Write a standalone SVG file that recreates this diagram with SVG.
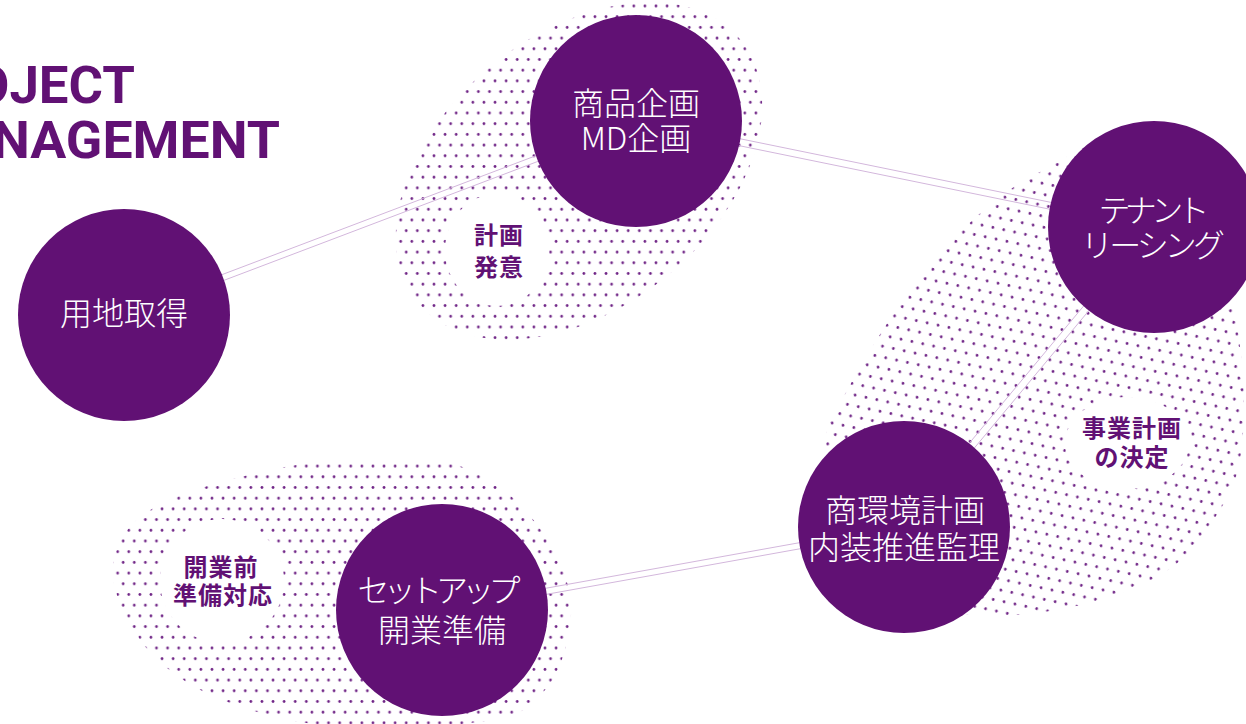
<svg xmlns="http://www.w3.org/2000/svg" width="1246" height="724" viewBox="0 0 1246 724">
<defs>
<style>
.node{fill:#611174}
.nt{font-family:"Noto Sans CJK JP","Noto Sans",sans-serif;font-size:32px;font-weight:300;fill:#ffffff;text-anchor:middle}
.lbl{font-family:"Noto Sans CJK JP","Noto Sans",sans-serif;font-size:24px;font-weight:700;fill:#611174;text-anchor:middle;letter-spacing:1px}
.title{font-family:Roboto,"Liberation Sans",sans-serif;font-weight:700;font-size:52px;fill:#611174}
.conn line{stroke:#d3b7dc;stroke-width:1;fill:none}
</style>
<pattern id="dots" patternUnits="userSpaceOnUse" x="9.4" y="0.65" width="11.1" height="21.4">
<circle cx="2.8" cy="5.35" r="1.35" fill="#6e2285"/>
<circle cx="8.35" cy="16.05" r="1.35" fill="#6e2285"/>
</pattern>
<pattern id="dotsB" patternUnits="userSpaceOnUse" x="0" y="0" width="11.1" height="21.4" patternTransform="rotate(12)">
<circle cx="2.8" cy="5.35" r="1.35" fill="#6e2285"/>
<circle cx="8.35" cy="16.05" r="1.35" fill="#6e2285"/>
</pattern>
<mask id="mA" maskUnits="userSpaceOnUse" x="0" y="0" width="1246" height="724">
<ellipse cx="579" cy="171" rx="208" ry="137" transform="rotate(-39 579 171)" fill="#fff"/>
<ellipse cx="497" cy="250" rx="52" ry="56" fill="#000"/>
</mask>
<mask id="mB" maskUnits="userSpaceOnUse" x="0" y="0" width="1246" height="724">
<path fill="#fff" d="M1040,172 C1061.7,161.2 1091.7,137 1120,140 C1148.3,143 1191.3,168.3 1210,190 C1228.7,211.7 1227.3,246.7 1232,270 C1236.7,293.3 1236,309.2 1238,330 C1240,350.8 1244.3,370.5 1244,395 C1243.7,419.5 1244,452.3 1236,477 C1228,501.7 1209.5,526.2 1196,543 C1182.5,559.8 1173.5,567.8 1155,578 C1136.5,588.2 1110.8,597.8 1085,604 C1059.2,610.2 1027.5,615.7 1000,615 C972.5,614.3 945.8,616.7 920,600 C894.2,583.3 860.7,541.7 845,515 C829.3,488.3 825.3,461.3 826,440 C826.7,418.7 837,409.2 849,387 C861,364.8 882.3,329.8 898,307 C913.7,284.2 927.7,267 943,250 C958.3,233 973.8,218 990,205 C1006.2,192 1018.3,182.8 1040,172 Z"/>
<ellipse cx="1127" cy="443" rx="62" ry="46" fill="#000"/>
</mask>
<mask id="mC" maskUnits="userSpaceOnUse" x="0" y="0" width="1246" height="724">
<path fill="#fff" d="M330,461 C363.3,458.3 411.7,456.5 440,461 C468.3,465.5 484.2,477.8 500,488 C515.8,498.2 525,509.5 535,522 C545,534.5 554,549.2 560,563 C566,576.8 570.2,590.5 571,605 C571.8,619.5 569.3,635.8 565,650 C560.7,664.2 555,678.8 545,690 C535,701.2 529.2,710.7 505,717 C480.8,723.3 434.2,727.2 400,728 C365.8,728.8 330.8,727.2 300,722 C269.2,716.8 238.3,707 215,697 C191.7,687 174.5,674.8 160,662 C145.5,649.2 135.8,634.5 128,620 C120.2,605.5 113.5,589.5 113,575 C112.5,560.5 116.3,545.2 125,533 C133.7,520.8 145.8,511.3 165,502 C184.2,492.7 212.5,483.8 240,477 C267.5,470.2 296.7,463.7 330,461 Z"/>
<circle cx="222" cy="581" r="62" fill="#000"/>
</mask>
</defs>

<g id="title">
<text class="title" x="-27" y="103" textLength="162" lengthAdjust="spacingAndGlyphs">OJECT</text>
<text class="title" x="-8" y="158" textLength="288" lengthAdjust="spacingAndGlyphs">NAGEMENT</text>
</g>

<g id="dot-areas">
<rect x="0" y="0" width="1246" height="724" fill="url(#dots)" mask="url(#mA)"/>
<rect x="0" y="0" width="1246" height="724" fill="url(#dotsB)" mask="url(#mB)"/>
<rect x="0" y="0" width="1246" height="724" fill="url(#dots)" mask="url(#mC)"/>
</g>

<g id="connectors" class="conn">
<line x1="125.1" y1="317.8" x2="637.1" y2="123.8"/>
<line x1="122.9" y1="312.2" x2="634.9" y2="118.2"/>
<line x1="635.3" y1="124.4" x2="1153.3" y2="230.4"/>
<line x1="636.7" y1="117.6" x2="1154.7" y2="223.6"/>
<line x1="1156.7" y1="229.2" x2="906.7" y2="529.2"/>
<line x1="1151.3" y1="224.8" x2="901.3" y2="524.8"/>
<line x1="904.5" y1="530" x2="442.5" y2="613"/>
<line x1="903.5" y1="524" x2="441.5" y2="607"/>
</g>

<g id="node-land">
<circle class="node" cx="124" cy="315" r="106"/>
<text class="nt" x="124" y="325">用地取得</text>
</g>
<g id="node-md">
<circle class="node" cx="636" cy="121" r="106"/>
<text class="nt" x="636" y="115">商品企画</text>
<text class="nt" x="636" y="150">MD企画</text>
</g>
<g id="node-tenant">
<circle class="node" cx="1154" cy="227" r="106"/>
<text class="nt" x="1154" y="222" textLength="111" lengthAdjust="spacing">テナント</text>
<text class="nt" x="1153" y="257" textLength="144" lengthAdjust="spacing">リーシング</text>
</g>
<g id="node-interior">
<circle class="node" cx="904" cy="527" r="106"/>
<text class="nt" x="905" y="522">商環境計画</text>
<text class="nt" x="904" y="559">内装推進監理</text>
</g>
<g id="node-setup">
<circle class="node" cx="442" cy="610" r="106"/>
<text class="nt" x="439" y="602" textLength="163" lengthAdjust="spacing">セットアップ</text>
<text class="nt" x="442" y="642">開業準備</text>
</g>

<g id="label-plan">
<text class="lbl" x="499" y="244">計画</text>
<text class="lbl" x="499" y="276">発意</text>
</g>
<g id="label-business">
<text class="lbl" x="1132" y="437">事業計画</text>
<text class="lbl" x="1132" y="466">の決定</text>
</g>
<g id="label-preopen">
<text class="lbl" x="221" y="576">開業前</text>
<text class="lbl" x="223" y="604">準備対応</text>
</g>
</svg>
